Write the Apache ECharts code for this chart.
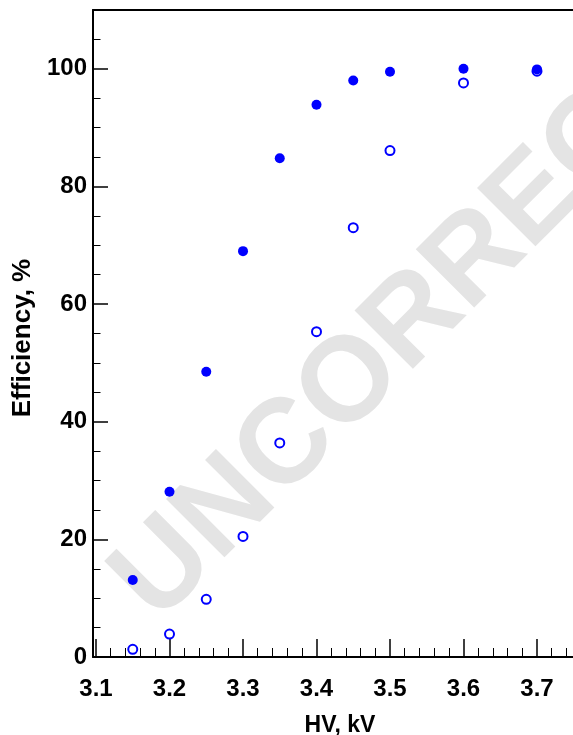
<!DOCTYPE html>
<html>
<head>
<meta charset="utf-8">
<script src="https://cdn.jsdelivr.net/npm/echarts@6/dist/echarts.min.js"></script>
<style>
html,body{margin:0;padding:0;background:#fff;}
#chart{width:573px;height:735px;}
</style>
</head>
<body>
<div id="chart"></div>
<script>
// ---- data ----
var hv = [3.15, 3.2, 3.25, 3.3, 3.35, 3.4, 3.45, 3.5, 3.6, 3.7];
var effFilled = [13.1, 28.1, 48.5, 69.0, 84.8, 93.9, 98.0, 99.5, 100.0, 99.9];
var effOpen = [1.3, 3.9, 9.8, 20.5, 36.4, 55.3, 73.0, 86.1, 97.6, 99.6];

// ---- ticks ----
var xTicks = [3.1, 3.2, 3.3, 3.4, 3.5, 3.6, 3.7];
var xMinor = [3.12,3.14,3.16,3.18,3.22,3.24,3.26,3.28,3.32,3.34,3.36,3.38,3.42,3.44,3.46,3.48,3.52,3.54,3.56,3.58,3.62,3.64,3.66,3.68,3.72,3.74];
var yTicks = [0, 20, 40, 60, 80, 100];
var yMinor = [5,10,15,25,30,35,45,50,55,65,70,75,85,90,95,105];

var xMin = 3.0959, xMax = 3.749, yMin = 0, yMax = 110;
var FONT = '"Liberation Sans", Arial, Helvetica, sans-serif';

var chart = echarts.init(document.getElementById('chart'), null, {renderer: 'canvas'});

function pairs(xs, ys) { return xs.map(function (x, i) { return [x, ys[i]]; }); }

var option = {
  animation: false,
  backgroundColor: '#fff',
  grid: {left: 93, right: 0, top: 10, bottom: 78, containLabel: false, outerBoundsMode: 'none'},
  xAxis: [
    {
      type: 'value', min: xMin, max: xMax, position: 'bottom',
      axisLine: {onZero: false, lineStyle: {color: '#000', width: 2}},
      axisTick: {inside: true, length: 18, customValues: xTicks, lineStyle: {color: '#000', width: 1.5}},
      axisLabel: {customValues: xTicks, formatter: function (v) { return v.toFixed(1); },
        margin: 20, fontSize: 24, fontWeight: 'bold', color: '#000', fontFamily: FONT},
      splitLine: {show: false},
      name: 'HV, kV', nameLocation: 'middle', nameGap: 57,
      nameTextStyle: {fontSize: 23, fontWeight: 'bold', color: '#000', fontFamily: FONT, padding: [0, 0, 0, 14]}
    },
    {
      type: 'value', min: xMin, max: xMax, position: 'bottom',
      axisLine: {show: false, onZero: false},
      axisTick: {inside: true, length: 9, customValues: xMinor, lineStyle: {color: '#000', width: 1}},
      axisLabel: {show: false}, splitLine: {show: false}
    },
    {
      type: 'value', min: xMin, max: xMax, position: 'top',
      axisLine: {show: true, onZero: false, lineStyle: {color: '#000', width: 2}},
      axisTick: {show: false}, axisLabel: {show: false}, splitLine: {show: false}
    }
  ],
  yAxis: [
    {
      type: 'value', min: yMin, max: yMax, position: 'left',
      axisLine: {show: true, onZero: false, lineStyle: {color: '#000', width: 2}},
      axisTick: {inside: true, length: 15, customValues: yTicks, lineStyle: {color: '#000', width: 1.5}},
      axisLabel: {customValues: yTicks, margin: 6, fontSize: 24, fontWeight: 'bold', color: '#000', fontFamily: FONT,
        padding: [7, 0, 0, 0]},
      splitLine: {show: false},
      name: 'Efficiency, %', nameLocation: 'middle', nameGap: 57,
      nameTextStyle: {fontSize: 26, fontWeight: 'bold', color: '#000', fontFamily: FONT, padding: [0, 9, 0, 0]}
    },
    {
      type: 'value', min: yMin, max: yMax, position: 'left',
      axisLine: {show: false, onZero: false},
      axisTick: {inside: true, length: 7.5, customValues: yMinor, lineStyle: {color: '#000', width: 1}},
      axisLabel: {show: false}, splitLine: {show: false}
    }
  ],
  graphic: [
    {
      type: 'text', x: 134, y: 601, rotation: Math.PI / 4, z: -10, silent: true,
      style: {text: 'UNCORRECTED', fill: '#e4e4e4', fontSize: 120, fontWeight: 'bold', fontFamily: FONT,
        align: 'left', verticalAlign: 'middle'}
    }
  ],
  series: [
    {
      type: 'scatter', xAxisIndex: 0, yAxisIndex: 0, data: pairs(hv, effFilled),
      symbol: 'circle', symbolSize: 10, itemStyle: {color: '#0000ff', opacity: 1}, z: 3
    },
    {
      type: 'scatter', xAxisIndex: 0, yAxisIndex: 0, data: pairs(hv, effOpen),
      symbol: 'circle', symbolSize: 9, itemStyle: {color: '#ffffff', borderColor: '#0000ff', borderWidth: 2, opacity: 1}, z: 2
    }
  ]
};
chart.setOption(option);
</script>
</body>
</html>
